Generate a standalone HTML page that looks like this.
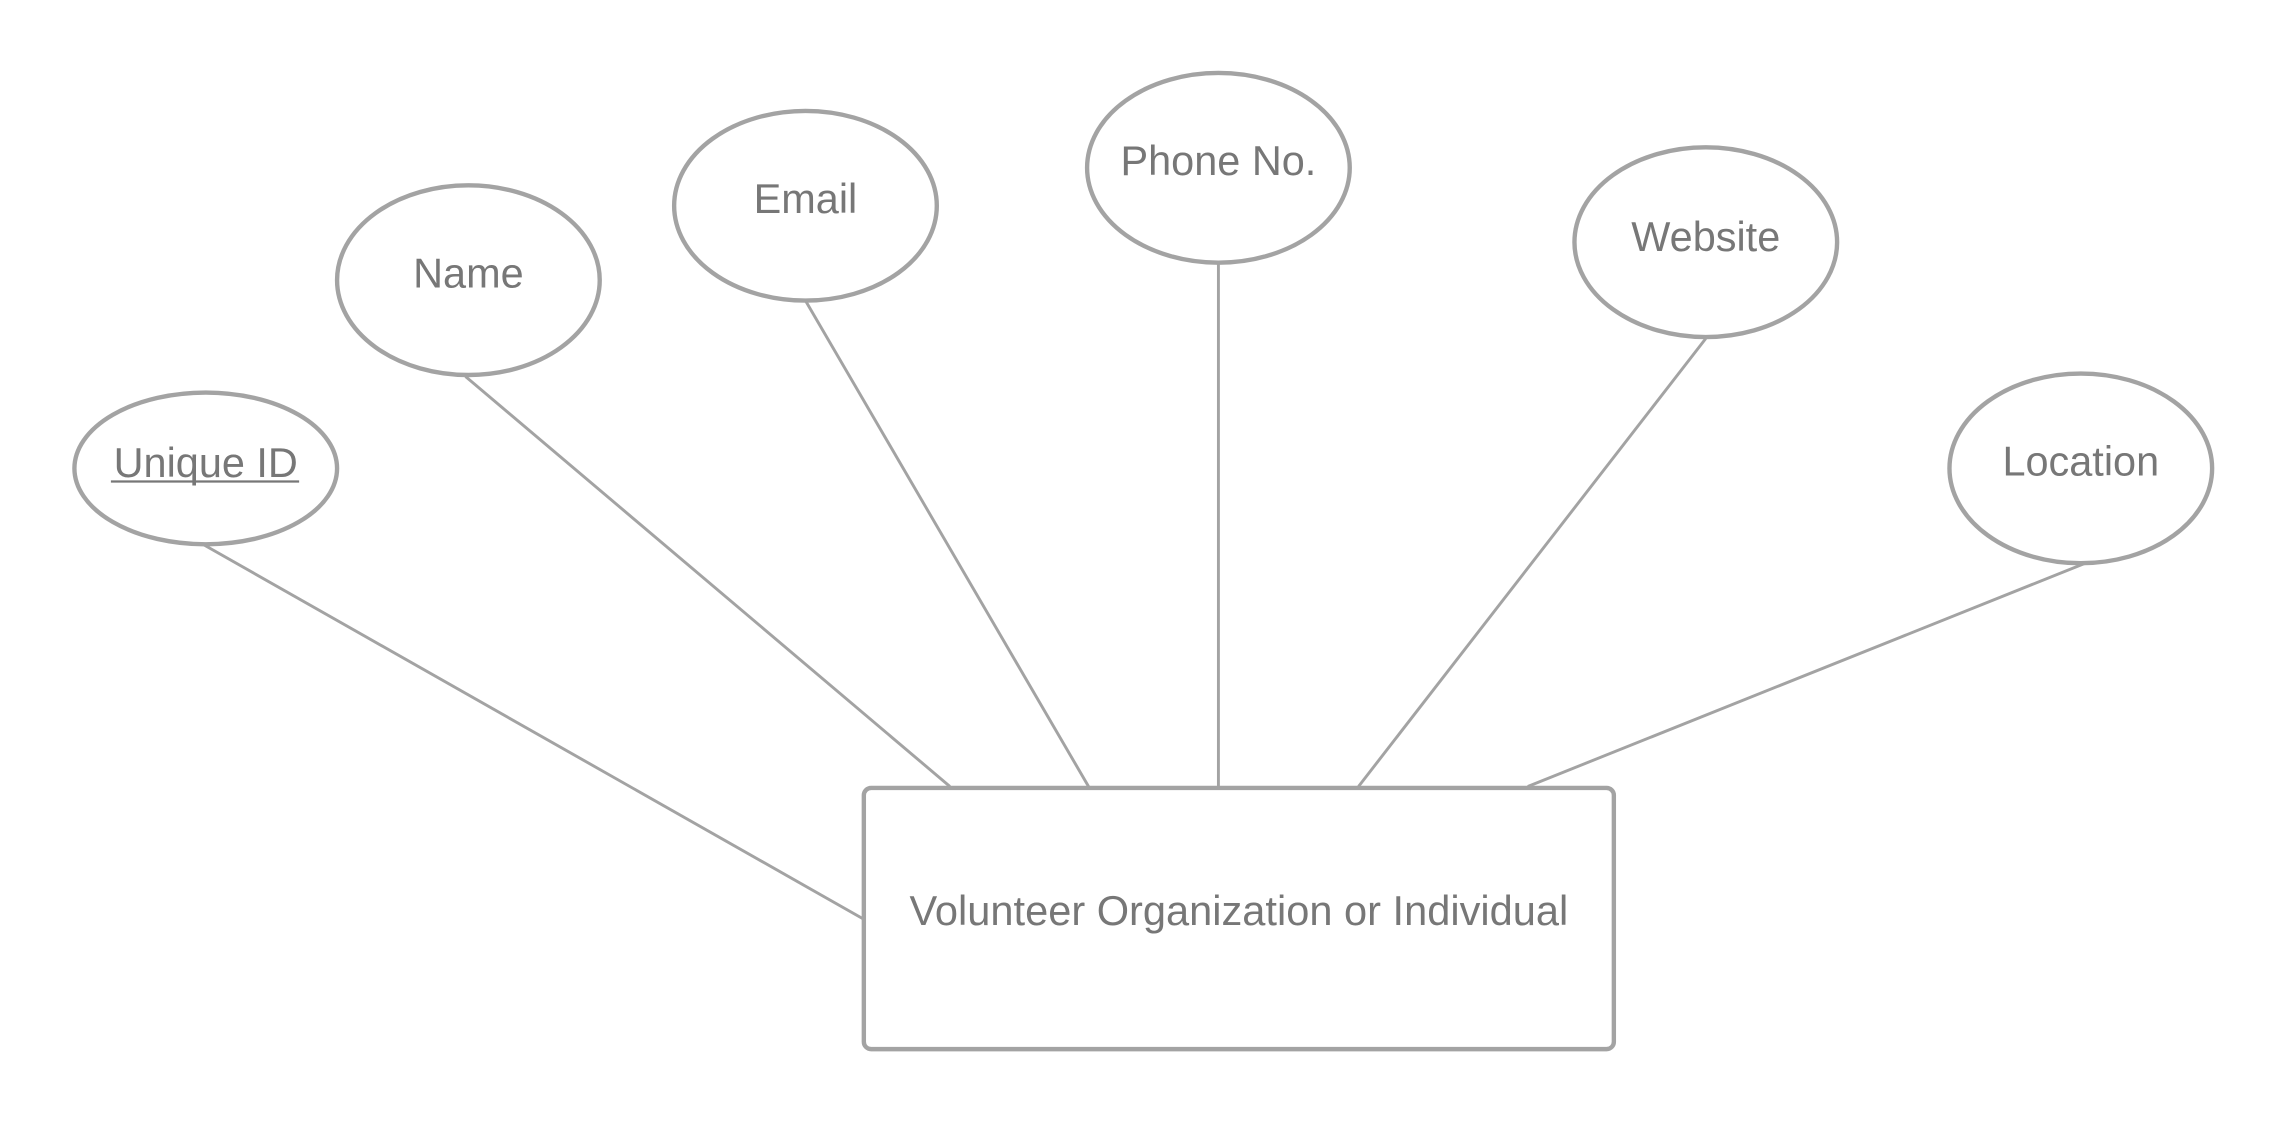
<!DOCTYPE html>
<html><head><style>html,body{margin:0;padding:0;background:#fff;}svg{display:block}</style></head>
<body>
<svg width="2288" height="1125" viewBox="0 0 1568 771" preserveAspectRatio="none" xmlns="http://www.w3.org/2000/svg">
<g stroke="#a3a3a3" stroke-width="2" fill="none">
<line x1="139" y1="373" x2="592" y2="630"/>
<line x1="319" y1="258" x2="651" y2="539"/>
<line x1="552" y1="206" x2="746" y2="539"/>
<line x1="835" y1="180" x2="835" y2="539"/>
<line x1="1169" y1="232" x2="931" y2="539"/>
<line x1="1429" y1="386" x2="1047" y2="539"/>
</g>
<g stroke="#a3a3a3" stroke-width="3" fill="#fff">
<ellipse cx="141" cy="321" rx="90" ry="52"/>
<ellipse cx="321" cy="192" rx="90" ry="65"/>
<ellipse cx="552" cy="141" rx="90" ry="65"/>
<ellipse cx="835" cy="115" rx="90" ry="65"/>
<ellipse cx="1169" cy="166" rx="90" ry="65"/>
<ellipse cx="1426" cy="321" rx="90" ry="65"/>
<rect x="592" y="540" width="514" height="179" rx="5" ry="5"/>
</g>
<g fill="#777" font-family="Liberation Sans, sans-serif" font-size="28.4" text-anchor="middle">
<text x="141" y="327">Unique ID</text>
<text x="321" y="197">Name</text>
<text x="552" y="146">Email</text>
<text x="835" y="120">Phone No.</text>
<text x="1169" y="172">Website</text>
<text x="1426" y="326">Location</text>
<text x="849" y="634" font-size="28.5">Volunteer Organization or Individual</text>
</g>
<line x1="76" y1="330" x2="205" y2="330" stroke="#777" stroke-width="1.5"/>
</svg>
</body></html>
